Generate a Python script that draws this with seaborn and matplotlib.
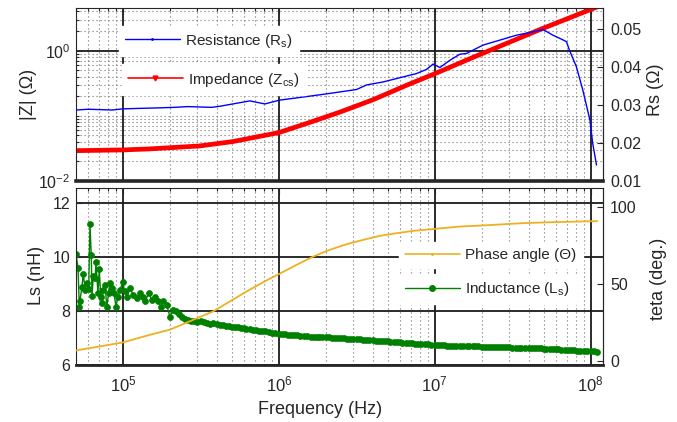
import numpy as np
import matplotlib
matplotlib.use("Agg")
import matplotlib.pyplot as plt
from matplotlib.lines import Line2D
from matplotlib.ticker import FixedLocator, FixedFormatter, LogLocator, NullFormatter
import seaborn as sns

# --- data ---
freq_rs = [5.0e4, 6.0e4, 7.1e4, 8.5e4, 1.0e5, 1.2e5, 1.49e5, 1.8e5, 2.15e5, 2.6e5,
           3.1e5, 3.7e5, 4.2e5, 5.07e5, 6.52e5, 8.13e5, 1.01e6, 1.36e6, 1.75e6, 2.23e6,
           3.15e6, 3.65e6, 4.67e6, 5.97e6, 7.64e6, 8.85e6, 9.76e6, 1.08e7, 1.25e7, 1.45e7,
           1.60e7, 2.04e7, 2.61e7, 3.34e7, 4.27e7, 4.95e7, 5.73e7, 6.32e7, 7.0e7, 7.3e7,
           8.1e7, 8.9e7, 9.9e7, 1.03e8, 1.09e8]
rs = [0.0287, 0.0289, 0.0288, 0.0287, 0.0290, 0.0291, 0.0292, 0.0293, 0.0294, 0.0296,
      0.0295, 0.0294, 0.0297, 0.0303, 0.0311, 0.0303, 0.0313, 0.0320, 0.0326, 0.0332,
      0.0341, 0.0353, 0.0361, 0.0372, 0.0383, 0.0394, 0.0408, 0.0399, 0.0418, 0.0434,
      0.0436, 0.0458, 0.0471, 0.0484, 0.0493, 0.0499, 0.0484, 0.0476, 0.0467, 0.0445,
      0.0401, 0.0340, 0.0260, 0.0200, 0.0142]

freq_z = [5.0e4, 1.0e5, 1.45e5, 1.9e5, 3.1e5, 5.07e5, 1.0e6, 1.58e6, 2.46e6, 4.0e6,
          6.6e6, 1.0e7, 1.75e7, 4.7e7, 1.1e8]
z_mag = [0.0292, 0.0300, 0.0310, 0.0322, 0.0345, 0.0403, 0.0553, 0.0794, 0.114, 0.176,
         0.295, 0.443, 0.785, 2.10, 4.70]

# noisy low-frequency part of the inductance sweep
freq_ls_low = [5.00e4, 5.15e4, 5.25e4, 5.30e4, 5.46e4, 5.56e4, 5.73e4, 5.85e4, 6.03e4, 6.14e4,
               6.26e4, 6.33e4, 6.45e4, 6.64e4, 6.71e4, 6.91e4, 7.05e4, 7.20e4, 7.33e4, 7.47e4,
               7.70e4, 7.86e4, 8.10e4, 8.25e4, 8.50e4, 8.76e4, 9.02e4, 9.29e4, 9.57e4, 9.96e4,
               1.025e5, 1.066e5, 1.109e5, 1.164e5, 1.224e5, 1.285e5, 1.338e5, 1.390e5, 1.461e5,
               1.534e5, 1.611e5, 1.677e5, 1.745e5, 1.813e5, 1.906e5, 2.001e5]
ls_low = [10.10, 9.58, 8.16, 8.38, 8.90, 9.37, 8.78, 9.02, 8.80, 11.22,
          10.07, 8.56, 9.27, 9.21, 9.80, 8.66, 9.54, 8.53, 8.29, 8.78,
          8.96, 8.14, 8.66, 9.02, 8.84, 8.66, 8.16, 8.51, 8.78, 9.05,
          8.75, 8.53, 8.84, 8.59, 8.47, 8.66, 8.51, 8.35, 8.66,
          8.41, 8.51, 8.35, 8.16, 8.35, 8.22, 7.79]

# sweep points per decade used for the smooth part
sweep_mant = [1.0, 1.05, 1.1, 1.15, 1.2, 1.25, 1.3, 1.37, 1.45, 1.52,
              1.6, 1.67, 1.75, 1.82, 1.9, 2.0, 2.1, 2.2, 2.3, 2.4,
              2.5, 2.62, 2.75, 2.87, 3.0, 3.15, 3.3, 3.45, 3.6, 3.8,
              4.0, 4.2, 4.4, 4.6, 4.8, 5.0, 5.2, 5.45, 5.7, 5.95,
              6.2, 6.5, 6.8, 7.15, 7.5, 7.85, 8.2, 8.6, 9.0, 9.5]
ls_e5 = [8.05, 7.98, 7.90, 7.78, 7.70, 7.68, 7.64, 7.62, 7.58, 7.63,
         7.60, 7.55, 7.53, 7.55, 7.50, 7.47, 7.48, 7.45, 7.44, 7.41,
         7.40, 7.39, 7.37, 7.35, 7.34, 7.33, 7.31, 7.29, 7.27, 7.26,
         7.24, 7.22, 7.20, 7.18]
ls_e6 = [7.16, 7.15, 7.13, 7.12, 7.11, 7.10, 7.09, 7.08, 7.06, 7.06,
         7.05, 7.05, 7.04, 7.04, 7.03, 7.03, 7.02, 7.01, 7.00, 7.00,
         6.99, 6.98, 6.97, 6.97, 6.96, 6.96, 6.95, 6.94, 6.93, 6.92,
         6.91, 6.90, 6.89, 6.88, 6.87, 6.87, 6.86, 6.85, 6.84, 6.84,
         6.83, 6.82, 6.81, 6.80, 6.79, 6.79, 6.78, 6.77, 6.76, 6.75]
ls_e7 = [6.74, 6.74, 6.73, 6.73, 6.72, 6.72, 6.72, 6.71, 6.71, 6.70,
         6.70, 6.70, 6.69, 6.69, 6.69, 6.68, 6.68, 6.67, 6.67, 6.67,
         6.67, 6.66, 6.66, 6.65, 6.65, 6.64, 6.64, 6.64, 6.64, 6.63,
         6.63, 6.62, 6.62, 6.61, 6.61, 6.60, 6.60, 6.59, 6.59, 6.58,
         6.58, 6.57, 6.56, 6.56, 6.55, 6.54, 6.53, 6.53, 6.52, 6.51]
ls_e8 = [6.50, 6.50, 6.49]

freq_phase = [5.0e4, 7.1e4, 1.0e5, 1.49e5, 2.0e5, 3.79e5, 6.21e5, 8.4e5,
              1.0e6, 1.3e6, 1.66e6, 2.12e6, 2.72e6, 3.47e6, 4.44e6, 5.68e6, 7.26e6, 1.0e7,
              1.45e7, 2.2e7, 3.67e7, 6.0e7, 1.1e8]
phase_deg = [7.1, 9.7, 12.3, 17.2, 20.5, 32.3, 45.2, 52.5,
             56.4, 62.4, 67.7, 72.1, 75.7, 78.5, 81.1, 82.8, 84.3, 85.6,
             87.1, 88.0, 89.3, 90.0, 90.6]

freq_ls = (freq_ls_low
           + [m * 1e5 for m in sweep_mant[16:]]
           + [m * 1e6 for m in sweep_mant]
           + [m * 1e7 for m in sweep_mant]
           + [m * 1e8 for m in sweep_mant[:3]])
ls_nh = ls_low + ls_e5 + ls_e6 + ls_e7 + ls_e8

# --- style ---
sns.set_theme(style="white")
plt.rcParams['font.family'] = ['Liberation Sans', 'DejaVu Sans']
plt.rcParams['mathtext.default'] = 'regular'
plt.rcParams['text.color'] = '#262626'
plt.rcParams['axes.labelcolor'] = '#262626'

C_BLUE = '#0000FF'
C_RED = '#FF0000'
C_GREEN = '#008000'
C_ORANGE = '#EDB120'
SPINE = '#262626'

fig = plt.figure(figsize=(6.77, 4.22), dpi=100)
ax_z = fig.add_axes([0.1123, 0.5711, 0.7784, 0.4111])
ax_rs = ax_z.twinx()
ax_ls = fig.add_axes([0.1123, 0.1351, 0.7784, 0.4194])
ax_ph = ax_ls.twinx()

for ax in (ax_z, ax_rs, ax_ls, ax_ph):
    ax.set_xscale('log')
ax_z.set_yscale('log')

# --- curves ---
sns.lineplot(x=freq_z, y=z_mag, ax=ax_z, color=C_RED, lw=3.4,
             estimator=None, sort=False, legend=False)
sns.lineplot(x=freq_rs, y=rs, ax=ax_rs, color=C_BLUE, lw=1.0,
             estimator=None, sort=False, legend=False)
sns.lineplot(x=freq_ls, y=ls_nh, ax=ax_ls, color=C_GREEN, lw=1.0, marker='o',
             markersize=4.3, markeredgewidth=0.5, markeredgecolor=C_GREEN,
             estimator=None, sort=False, legend=False)
sns.lineplot(x=freq_phase, y=phase_deg, ax=ax_ph, color=C_ORANGE, lw=1.3,
             estimator=None, sort=False, legend=False)

# --- axes limits / ticks ---
for ax in (ax_z, ax_rs, ax_ls, ax_ph):
    ax.set_xlim(5e4, 1.2e8)
    ax.xaxis.set_minor_locator(LogLocator(base=10, subs=np.arange(2, 10), numticks=20))
    ax.xaxis.set_minor_formatter(NullFormatter())

ax_z.set_ylim(1e-2, 4.6)
ax_z.yaxis.set_major_locator(FixedLocator([1e-2, 1.0]))
ax_z.yaxis.set_major_formatter(FixedFormatter([r'$10^{-2}$', r'$10^{0}$']))
ax_z.yaxis.set_minor_locator(LogLocator(base=10, subs=np.arange(1, 10), numticks=20))
ax_z.yaxis.set_minor_formatter(NullFormatter())
ax_z.tick_params(axis='x', labelbottom=False)
ax_rs.tick_params(axis='x', labelbottom=False)

ax_rs.set_ylim(0.01, 0.0557)
ax_rs.set_yticks([0.01, 0.02, 0.03, 0.04, 0.05])
ax_rs.set_yticklabels(['0.01', '0.02', '0.03', '0.04', '0.05'])

ax_ls.set_ylim(6, 12.54)
ax_ls.set_yticks([6, 8, 10, 12])
ax_ls.set_xticks([1e5, 1e6, 1e7, 1e8])
ax_ls.set_xticklabels([r'$10^{5}$', r'$10^{6}$', r'$10^{7}$', r'$10^{8}$'])

ax_ph.set_ylim(-2.3, 112)
ax_ph.set_yticks([0, 50, 100])

for ax in (ax_z, ax_ls):
    ax.tick_params(which='both', direction='in', top=True, colors=SPINE, width=0.8)
    ax.tick_params(which='major', length=4)
    ax.tick_params(which='minor', length=2.5)
    ax.tick_params(axis='y', labelsize=11.5, pad=4)
ax_ls.tick_params(axis='x', labelsize=12, pad=7)
for ax in (ax_rs, ax_ph):
    ax.tick_params(which='both', direction='in', colors=SPINE, width=0.8)
    ax.tick_params(axis='y', labelsize=11.5, pad=5, length=4)
    ax.tick_params(axis='x', which='both', bottom=False, top=False)

# --- grids ---
major_kw = dict(color='#1a1a1a', lw=1.3, ls='-')
minor_kw = dict(color='#707070', lw=0.8, ls=(0, (1, 2.6)))
ax_z.grid(which='major', **major_kw)
ax_z.grid(which='minor', **minor_kw)
ax_ls.grid(which='major', **major_kw)
ax_ls.grid(which='minor', axis='x', **minor_kw)
for ax in (ax_z, ax_ls):
    ax.set_axisbelow(True)

# --- spines ---
for ax in (ax_z, ax_ls):
    for s in ax.spines.values():
        s.set_color(SPINE)
        s.set_linewidth(0.8)
ax_z.spines['bottom'].set_linewidth(2.6)
ax_ls.spines['bottom'].set_linewidth(2.0)
for ax in (ax_rs, ax_ph):
    for name in ('left', 'top', 'bottom'):
        ax.spines[name].set_visible(False)
    ax.spines['right'].set_color(SPINE)
    ax.spines['right'].set_linewidth(0.8)

# --- labels ---
ax_z.set_ylabel('|Z| (Ω)', fontsize=13)
ax_rs.set_ylabel('Rs (Ω)', fontsize=13)
ax_ls.set_ylabel('Ls (nH)', fontsize=13)
ax_ph.set_ylabel('teta (deg.)', fontsize=13)
ax_ls.set_xlabel('Frequency (Hz)', fontsize=13)
ax_z.yaxis.set_label_coords(-0.074, 0.5)
ax_rs.yaxis.set_label_coords(1.083, 0.524)
ax_ls.yaxis.set_label_coords(-0.059, 0.508)
ax_ph.yaxis.set_label_coords(1.089, 0.486)
ax_ls.xaxis.set_label_coords(0.463, -0.205)

# --- legends (one box per entry, as in the original) ---
leg_kw = dict(loc='center left', frameon=True, framealpha=1, facecolor='white',
              edgecolor='white', fancybox=False, borderpad=0.4, handlelength=3.6,
              handletextpad=0.35, fontsize=11, numpoints=1)
h_rs = Line2D([], [], color=C_BLUE, lw=1.0, marker='.', markersize=2)
h_z = Line2D([], [], color=C_RED, lw=1.2, marker='v', markersize=3.5)
h_ph = Line2D([], [], color=C_ORANGE, lw=1.2, marker='.', markersize=2)
h_ls = Line2D([], [], color=C_GREEN, lw=1.0, marker='o', markersize=4)

leg1 = ax_rs.legend(handles=[h_rs], labels=[r'Resistance (R$_{s}$)'],
                    bbox_to_anchor=(0.0664, 0.809), **leg_kw)
ax_rs.add_artist(leg1)
ax_rs.legend(handles=[h_z], labels=[r'Impedance (Z$_{cs}$)'],
             bbox_to_anchor=(0.072, 0.585), **leg_kw)

leg3 = ax_ph.legend(handles=[h_ph], labels=['Phase angle (Θ)'],
                    bbox_to_anchor=(0.598, 0.621), **leg_kw)
ax_ph.add_artist(leg3)
ax_ph.legend(handles=[h_ls], labels=[r'Inductance (L$_{s}$)'],
             bbox_to_anchor=(0.598, 0.429), **leg_kw)

fig.savefig('out.png', dpi=100)
